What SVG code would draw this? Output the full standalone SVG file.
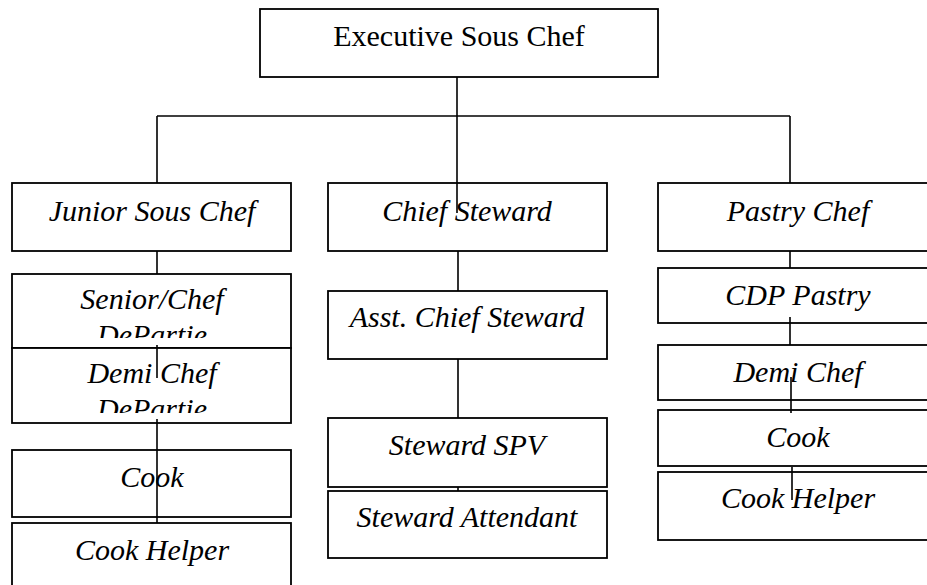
<svg xmlns="http://www.w3.org/2000/svg" width="927" height="585" viewBox="0 0 927 585">
<style>
.box{fill:#fff;stroke:#000;stroke-width:1.8}
.t{font-family:"Liberation Serif","Times New Roman",serif;font-size:30px;font-style:italic;text-anchor:middle;fill:#000}
.r{font-style:normal}
.c{stroke:#000;stroke-width:1.6;fill:none}
</style>
<defs>
<clipPath id="clipSenior"><rect x="12" y="274" width="279" height="64"/></clipPath>
<clipPath id="clipDemi"><rect x="12" y="348" width="279" height="65"/></clipPath>
</defs>
<rect width="927" height="585" fill="#fff"/>
<g id="exec"><rect class="box" x="260" y="9" width="398" height="68"/><text class="t r" x="459" y="46">Executive Sous Chef</text></g>
<g id="junior"><rect class="box" x="12" y="183" width="279" height="68"/><text class="t" x="152" y="221">Junior Sous Chef</text></g>
<g id="senior"><rect class="box" x="12" y="274" width="279" height="74"/><g clip-path="url(#clipSenior)"><text class="t" x="152" y="309">Senior/Chef</text><text class="t" x="152" y="345">DePartie</text></g></g>
<g id="demi-left"><rect class="box" x="12" y="348" width="279" height="75"/><g clip-path="url(#clipDemi)"><text class="t" x="152" y="383">Demi Chef</text><text class="t" x="152" y="419">DePartie</text></g></g>
<g id="cook-left"><rect class="box" x="12" y="450" width="279" height="67"/><text class="t" x="152" y="487">Cook</text></g>
<g id="helper-left"><rect class="box" x="12" y="523" width="279" height="80"/><text class="t" x="152" y="560">Cook Helper</text></g>
<g id="chief"><rect class="box" x="328" y="183" width="279" height="68"/><text class="t" x="467" y="221">Chief Steward</text></g>
<g id="asst"><rect class="box" x="328" y="291" width="279" height="68"/><text class="t" x="467" y="327">Asst. Chief Steward</text></g>
<g id="spv"><rect class="box" x="328" y="418" width="279" height="69"/><text class="t" x="467" y="455">Steward SPV</text></g>
<g id="attendant"><rect class="box" x="328" y="491" width="279" height="67"/><text class="t" x="467" y="527">Steward Attendant</text></g>
<g id="pastry"><rect class="box" x="658" y="183" width="280" height="68"/><text class="t" x="798" y="221">Pastry Chef</text></g>
<g id="cdp"><rect class="box" x="658" y="268" width="280" height="55"/><text class="t" x="798" y="305">CDP Pastry</text></g>
<g id="demi-right"><rect class="box" x="658" y="345" width="280" height="55"/><text class="t" x="798" y="382">Demi Chef</text></g>
<g id="cook-right"><rect class="box" x="658" y="410" width="280" height="56"/><text class="t" x="798" y="447">Cook</text></g>
<g id="helper-right"><rect class="box" x="658" y="472" width="280" height="68"/><text class="t" x="798" y="508">Cook Helper</text></g>
<g id="connectors">
<path class="c" d="M457 77V213"/>
<path class="c" d="M157 116H790"/>
<path class="c" d="M157 116V183M790 116V183"/>
<path class="c" d="M157 251V274M157 345V378M157 419V523"/>
<path class="c" d="M458 251V291M458 359V418M458 487V491"/>
<path class="c" d="M790 251V268M790 317V345M791 377V413M792 467V500"/>
</g>
</svg>
